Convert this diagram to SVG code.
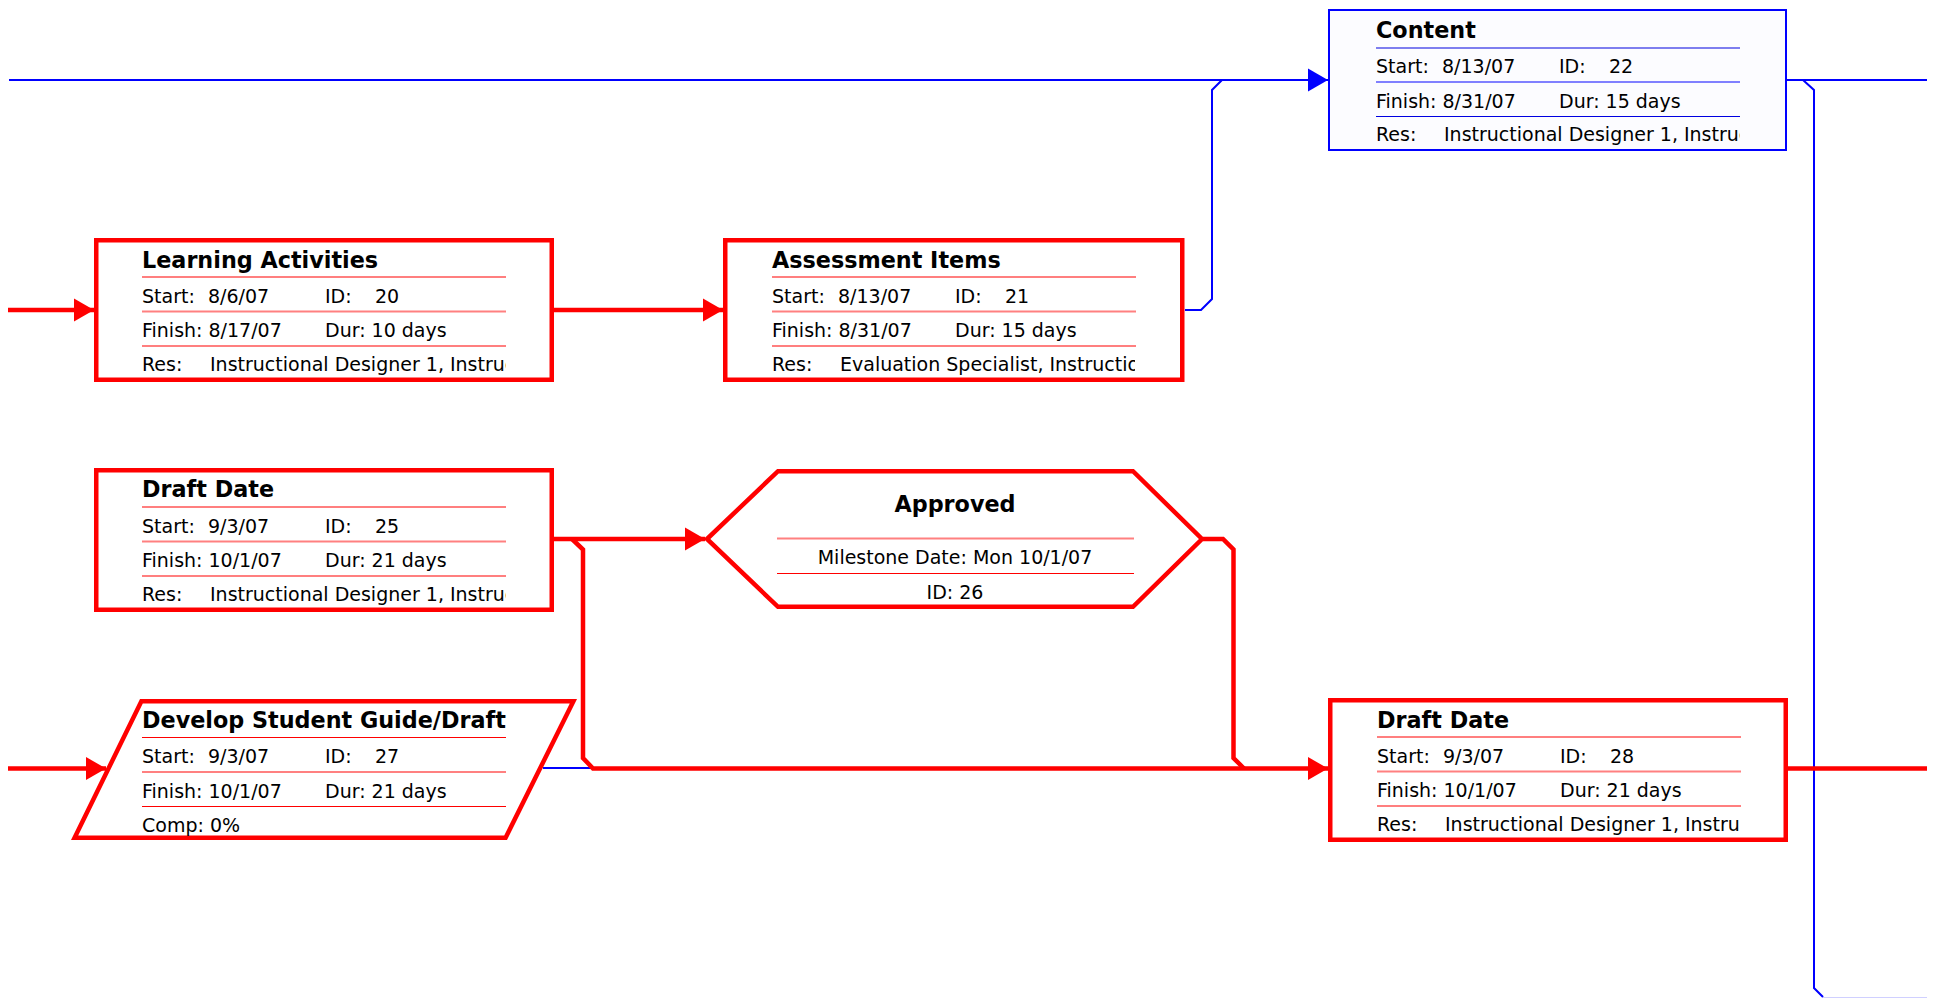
<svg xmlns="http://www.w3.org/2000/svg" width="1937" height="998" viewBox="0 0 1937 998">
<defs>
<style>
.t{font-family:"DejaVu Sans","Liberation Sans",sans-serif;font-size:19px;fill:#000}
.h{font-family:"DejaVu Sans","Liberation Sans",sans-serif;font-size:22.3px;font-weight:bold;fill:#000}
.rb{fill:#fff;stroke:#f00;stroke-width:4.5}
.bb{fill:#fcfcff;stroke:#00f;stroke-width:2}
.rd{stroke:#f00;stroke-width:1.2}
.rd2{stroke:#ff8080;stroke-width:2}
.bd{stroke:#0000e0;stroke-width:1.2}
.bd2{stroke:#8080ff;stroke-width:2}
.rc{fill:none;stroke:#f00;stroke-width:4.5}
.bc{fill:none;stroke:#00f;stroke-width:2}
</style>
<marker id="ar" markerUnits="userSpaceOnUse" markerWidth="20" markerHeight="24" refX="20" refY="12" orient="auto" viewBox="0 0 20 24"><path d="M0,0.5 L20,12 L0,23.5Z" fill="#f00"/></marker>
<marker id="ab" markerUnits="userSpaceOnUse" markerWidth="20" markerHeight="24" refX="20" refY="12" orient="auto" viewBox="0 0 20 24"><path d="M0,0.5 L20,12 L0,23.5Z" fill="#00f"/></marker>
<clipPath id="resclip" clipPathUnits="userSpaceOnUse"><rect x="40" y="110" width="372" height="32"/></clipPath>
</defs>

<g id="connectors">
<path class="bc" d="M9,80 H1328" marker-end="url(#ab)"/>
<path class="bc" d="M1185,310 H1201 L1212,299 V90 L1222,80"/>
<path class="bc" d="M1787,80 H1927"/>
<path class="bc" d="M1803,80 L1814,90 V988 L1823,997"/>
<line x1="1823" y1="997.5" x2="1927" y2="997.5" stroke="#d0d0ff" stroke-width="1"/>
<path class="bc" d="M543,768 H593"/>
<path class="rc" d="M8,310 H94" marker-end="url(#ar)"/>
<path class="rc" d="M554,310 H723" marker-end="url(#ar)"/>
<path class="rc" d="M554,539 H705" marker-end="url(#ar)"/>
<path class="rc" d="M572,539 L583,549.5 V758 L593,768.5 H1328" marker-end="url(#ar)"/>
<path class="rc" d="M1203,539 H1223 L1233.5,549.5 V758 L1244,768.5"/>
<path class="rc" d="M1787,768.5 H1927"/>
<path class="rc" d="M8,768.5 H106" marker-end="url(#ar)"/>
</g>

<g id="n22" transform="translate(1328,9)">
<rect class="bb" x="1" y="1" width="457" height="140"/>
<text class="h" x="48" y="28.5">Content</text>
<line class="bd" x1="48" y1="39" x2="412" y2="39"/>
<text class="t" x="48" y="64">Start:</text><text class="t" x="114" y="64">8/13/07</text><text class="t" x="231" y="64">ID:</text><text class="t" x="281" y="64">22</text>
<line class="bd2" x1="48" y1="73" x2="412" y2="73"/>
<text class="t" x="48" y="98.5">Finish: 8/31/07</text><text class="t" x="231" y="98.5">Dur: 15 days</text>
<line class="bd" x1="48" y1="107.5" x2="412" y2="107.5"/>
<text class="t" x="48" y="131.5">Res:</text><text class="t" x="116" y="131.5" clip-path="url(#resclip)">Instructional Designer 1, Instruc</text>
</g>

<g id="n20" transform="translate(94,238)">
<rect class="rb" x="2.25" y="2.25" width="455.5" height="139.5"/>
<text class="h" x="48" y="29.5">Learning Activities</text>
<line class="rd" x1="48" y1="39" x2="412" y2="39"/>
<text class="t" x="48" y="64.5">Start:</text><text class="t" x="114" y="64.5">8/6/07</text><text class="t" x="231" y="64.5">ID:</text><text class="t" x="281" y="64.5">20</text>
<line class="rd2" x1="48" y1="73.5" x2="412" y2="73.5"/>
<text class="t" x="48" y="99">Finish: 8/17/07</text><text class="t" x="231" y="99">Dur: 10 days</text>
<line class="rd" x1="48" y1="108" x2="412" y2="108"/>
<text class="t" x="48" y="133">Res:</text><text class="t" x="116" y="133" clip-path="url(#resclip)">Instructional Designer 1, Instruc</text>
</g>

<g id="n21" transform="translate(723,238)">
<rect class="rb" x="2.25" y="2.25" width="457" height="139.5"/>
<text class="h" x="49" y="29.5">Assessment Items</text>
<line class="rd" x1="49" y1="39" x2="413" y2="39"/>
<text class="t" x="49" y="64.5">Start:</text><text class="t" x="115" y="64.5">8/13/07</text><text class="t" x="232" y="64.5">ID:</text><text class="t" x="282" y="64.5">21</text>
<line class="rd2" x1="49" y1="73.5" x2="413" y2="73.5"/>
<text class="t" x="49" y="99">Finish: 8/31/07</text><text class="t" x="232" y="99">Dur: 15 days</text>
<line class="rd" x1="49" y1="108" x2="413" y2="108"/>
<text class="t" x="49" y="133">Res:</text><text class="t" x="117" y="133" clip-path="url(#resclip)">Evaluation Specialist, Instructio</text>
</g>

<g id="n25" transform="translate(94,468)">
<rect class="rb" x="2.25" y="2.25" width="455.5" height="139.5"/>
<text class="h" x="48" y="29">Draft Date</text>
<line class="rd" x1="48" y1="39" x2="412" y2="39"/>
<text class="t" x="48" y="64.5">Start:</text><text class="t" x="114" y="64.5">9/3/07</text><text class="t" x="231" y="64.5">ID:</text><text class="t" x="281" y="64.5">25</text>
<line class="rd2" x1="48" y1="73.5" x2="412" y2="73.5"/>
<text class="t" x="48" y="99">Finish: 10/1/07</text><text class="t" x="231" y="99">Dur: 21 days</text>
<line class="rd" x1="48" y1="108" x2="412" y2="108"/>
<text class="t" x="48" y="132.5">Res:</text><text class="t" x="116" y="132.5" clip-path="url(#resclip)">Instructional Designer 1, Instruc</text>
</g>

<g id="n26">
<polygon class="rb" points="707,539 778,471.2 1133,471.2 1202,539 1133,606.8 778,606.8"/>
<text class="h" x="955" y="512" text-anchor="middle">Approved</text>
<line class="rd2" x1="777" y1="538.5" x2="1134" y2="538.5"/>
<text class="t" x="955" y="564" text-anchor="middle">Milestone Date: Mon 10/1/07</text>
<line class="rd" x1="777" y1="573.5" x2="1134" y2="573.5"/>
<text class="t" x="955" y="599" text-anchor="middle">ID: 26</text>
</g>

<g id="n27" transform="translate(94,699)">
<polygon class="rb" points="47.4,2.25 479.4,2.25 411.6,138.75 -19.4,138.75"/>
<text class="h" x="48" y="29">Develop Student Guide/Draft</text>
<line class="rd" x1="48" y1="38.5" x2="412" y2="38.5"/>
<text class="t" x="48" y="64">Start:</text><text class="t" x="114" y="64">9/3/07</text><text class="t" x="231" y="64">ID:</text><text class="t" x="281" y="64">27</text>
<line class="rd2" x1="48" y1="73" x2="412" y2="73"/>
<text class="t" x="48" y="98.5">Finish: 10/1/07</text><text class="t" x="231" y="98.5">Dur: 21 days</text>
<line class="rd" x1="48" y1="107.5" x2="412" y2="107.5"/>
<text class="t" x="48" y="132.5">Comp: 0%</text>
</g>

<g id="n28" transform="translate(1328,698)">
<rect class="rb" x="2.25" y="2.25" width="455.5" height="139.5"/>
<text class="h" x="49" y="29.5">Draft Date</text>
<line class="rd" x1="49" y1="39" x2="413" y2="39"/>
<text class="t" x="49" y="64.5">Start:</text><text class="t" x="115" y="64.5">9/3/07</text><text class="t" x="232" y="64.5">ID:</text><text class="t" x="282" y="64.5">28</text>
<line class="rd2" x1="49" y1="73.5" x2="413" y2="73.5"/>
<text class="t" x="49" y="99">Finish: 10/1/07</text><text class="t" x="232" y="99">Dur: 21 days</text>
<line class="rd" x1="49" y1="108" x2="413" y2="108"/>
<text class="t" x="49" y="133">Res:</text><text class="t" x="117" y="133" clip-path="url(#resclip)">Instructional Designer 1, Instruc</text>
</g>
</svg>
